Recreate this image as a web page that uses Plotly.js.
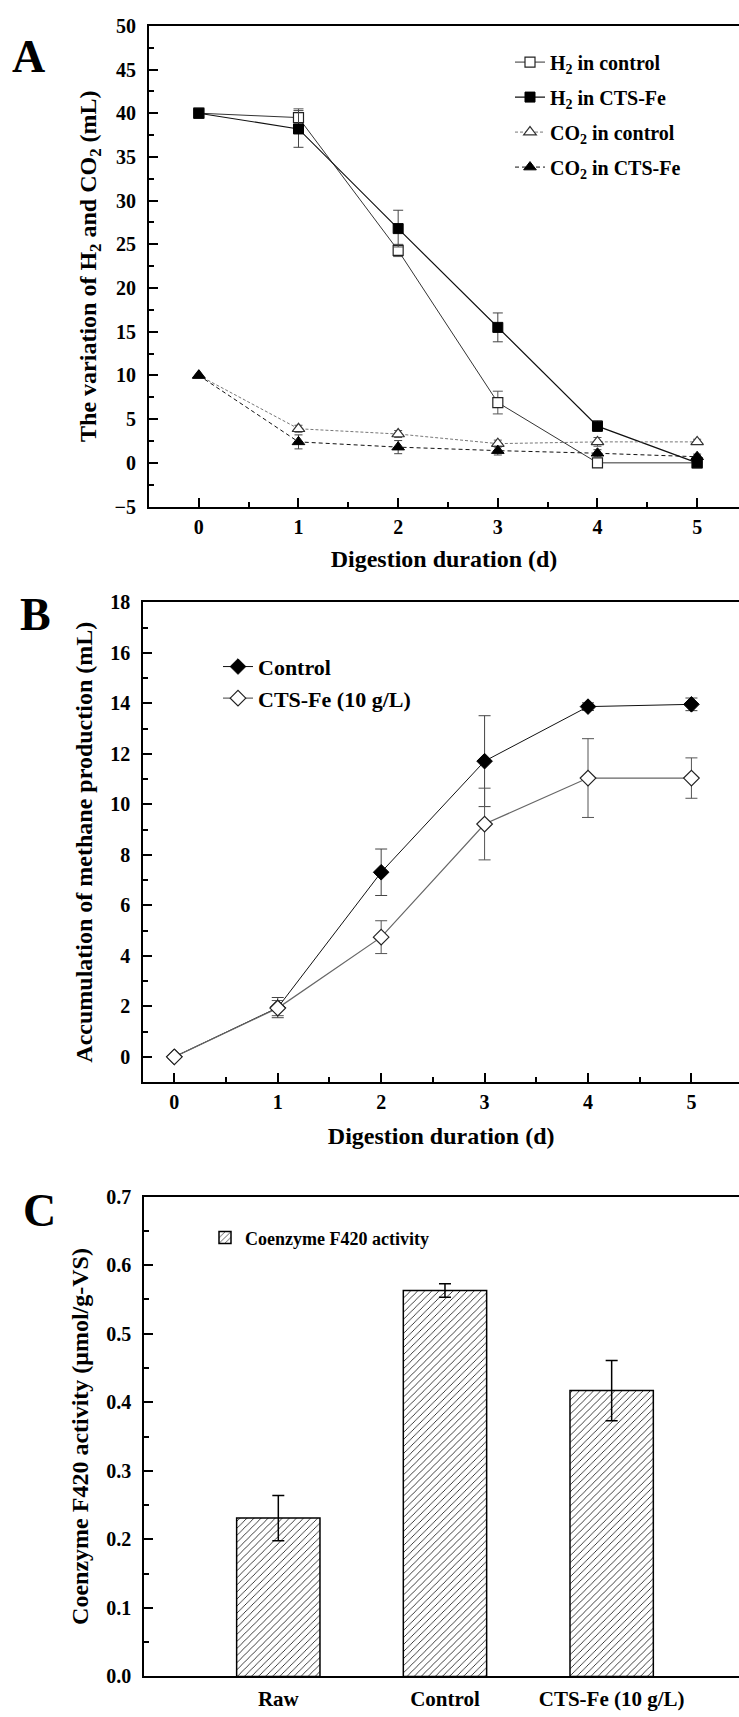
<!DOCTYPE html>
<html><head><meta charset="utf-8">
<script src="https://cdn.plot.ly/plotly-3.0.1.min.js"></script>
<style>html,body{margin:0;padding:0;background:#fff}</style>
</head><body><div id="chart" style="width:739px;height:1717px"></div>
<script>
// ---- Panel A: H2 and CO2 variation ----
const days = [0, 1, 2, 3, 4, 5];
const h2Control = [40, 39.5, 24.3, 6.9, 0, 0];
const h2ControlErr = [0, 1.0, 0.7, 1.3, 0.5, 0];
const h2CtsFe = [40, 38.2, 26.8, 15.5, 4.2, 0];
const h2CtsFeErr = [0, 2.1, 2.1, 1.65, 0.6, 0.3];
const co2Control = [10, 3.9, 3.3, 2.2, 2.4, 2.4];
const co2ControlErr = [0, 0.4, 0.4, 0.4, 0.5, 0.3];
const co2CtsFe = [10, 2.4, 1.8, 1.4, 1.1, 0.7];
const co2CtsFeErr = [0, 0.8, 0.75, 0.5, 0.4, 0.3];

// ---- Panel B: methane accumulation ----
const ch4Control = [0, 1.95, 7.31, 11.71, 13.87, 13.96];
const ch4ControlErr = [0, 0.4, 0.92, 1.8, 0.15, 0.25];
const ch4CtsFe = [0, 1.93, 4.74, 9.22, 11.04, 11.04];
const ch4CtsFeErr = [0, 0.3, 0.65, 1.42, 1.56, 0.8];

// ---- Panel C: coenzyme F420 ----
const groups = ['Raw', 'Control', 'CTS-Fe (10 g/L)'];
const f420 = [0.231, 0.563, 0.417];
const f420Err = [0.033, 0.01, 0.044];

const W = 739, H = 1717;
const px = v => v / W;
const py = v => 1 - v / H;
const FONT = 'Liberation Serif, "Times New Roman", serif';
const bold = (size) => ({family: FONT, size: size, color: '#000', weight: 'bold'});

function axisBase(extra) {
  return Object.assign({
    showline: true, linecolor: '#000', linewidth: 2,
    ticks: 'inside', ticklen: 9, tickwidth: 2, tickcolor: '#000',
    showgrid: false, zeroline: false,
    tickfont: bold(20), ticklabelstandoff: 7, automargin: true
  }, extra);
}

const traces = [
  {x: days, y: h2Control, name: 'H<sub>2</sub> in control', type: 'scatter', mode: 'lines+markers',
   xaxis: 'x', yaxis: 'y', legend: 'legend', legendgroup: 'a1',
   line: {color: '#333', width: 1},
   marker: {symbol: 'square', size: 10, color: '#fff', line: {color: '#222', width: 1.2}},
   error_y: {type: 'data', array: h2ControlErr, visible: true, color: '#555', thickness: 1, width: 5}},
  {x: days, y: h2CtsFe, name: 'H<sub>2</sub> in CTS-Fe', type: 'scatter', mode: 'lines+markers',
   xaxis: 'x', yaxis: 'y', legend: 'legend', legendgroup: 'a2',
   line: {color: '#111', width: 1.2},
   marker: {symbol: 'square', size: 10, color: '#000', line: {color: '#000', width: 1}},
   error_y: {type: 'data', array: h2CtsFeErr, visible: true, color: '#444', thickness: 1, width: 5}},
  {x: days, y: co2Control, name: 'CO<sub>2</sub> in control', type: 'scatter', mode: 'lines+markers',
   xaxis: 'x', yaxis: 'y', legend: 'legend', legendgroup: 'a3',
   line: {color: '#777', width: 1, dash: '3px,2px'},
   marker: {symbol: 'triangle-up', size: 11, color: '#fff', line: {color: '#333', width: 1.2}},
   error_y: {type: 'data', array: co2ControlErr, visible: true, color: '#555', thickness: 1, width: 4}},
  {x: days, y: co2CtsFe, name: 'CO<sub>2</sub> in CTS-Fe', type: 'scatter', mode: 'lines+markers',
   xaxis: 'x', yaxis: 'y', legend: 'legend', legendgroup: 'a4',
   line: {color: '#111', width: 1, dash: '4px,3px'},
   marker: {symbol: 'triangle-up', size: 11, color: '#000', line: {color: '#000', width: 1}},
   error_y: {type: 'data', array: co2CtsFeErr, visible: true, color: '#444', thickness: 1, width: 4}},

  {x: days, y: ch4Control, name: 'Control', type: 'scatter', mode: 'lines+markers',
   xaxis: 'x2', yaxis: 'y2', legend: 'legend2', legendgroup: 'b1',
   line: {color: '#111', width: 1},
   marker: {symbol: 'diamond', size: 12, color: '#000', line: {color: '#000', width: 1}},
   error_y: {type: 'data', array: ch4ControlErr, visible: true, color: '#444', thickness: 1, width: 6}},
  {x: days, y: ch4CtsFe, name: 'CTS-Fe (10 g/L)', type: 'scatter', mode: 'lines+markers',
   xaxis: 'x2', yaxis: 'y2', legend: 'legend2', legendgroup: 'b2',
   line: {color: '#666', width: 1.2},
   marker: {symbol: 'diamond', size: 12, color: '#fff', line: {color: '#222', width: 1.2}},
   error_y: {type: 'data', array: ch4CtsFeErr, visible: true, color: '#555', thickness: 1, width: 6}},

  {x: groups, y: f420, name: 'Coenzyme F420 activity', type: 'bar', width: 0.5,
   xaxis: 'x3', yaxis: 'y3', legend: 'legend3', showlegend: true,
   marker: {color: '#fff', line: {color: '#000', width: 1.5},
            pattern: {shape: '/', fgcolor: '#000', bgcolor: '#fff', size: 5, solidity: 0.15}},
   error_y: {type: 'data', array: f420Err, visible: true, color: '#000', thickness: 1.5, width: 6}}
];

const layout = {
  width: W, height: H,
  margin: {l: 0, r: 0, t: 0, b: 0},
  paper_bgcolor: '#fff', plot_bgcolor: '#fff',
  font: bold(18),
  showlegend: true,
  xaxis: axisBase({domain: [px(149), 1], anchor: 'y', range: [-0.5, 5.42], tick0: 0, dtick: 1, mirror: true,
    ticklabelstandoff: 1,
    minor: {ticks: 'inside', ticklen: 5, tickwidth: 2, tickcolor: '#000', tick0: 0, dtick: 0.5},
    title: {text: 'Digestion duration (d)', font: bold(24), standoff: 14}}),
  yaxis: axisBase({domain: [py(502), py(15)], anchor: 'x', range: [-5, 50], tick0: 0, dtick: 5,
    minor: {ticks: 'inside', ticklen: 5, tickwidth: 2, tickcolor: '#000', tick0: 0, dtick: 2.5},
    title: {text: 'The variation of H<sub>2</sub> and CO<sub>2</sub> (mL)', font: bold(24), standoff: 11}}),

  xaxis2: axisBase({domain: [px(143.3), 1], anchor: 'y2', range: [-0.3, 5.46], tick0: 0, dtick: 1, mirror: true,
    ticklabelstandoff: 1,
    minor: {ticks: 'inside', ticklen: 5, tickwidth: 2, tickcolor: '#000', tick0: 0, dtick: 0.5},
    title: {text: 'Digestion duration (d)', font: bold(24), standoff: 15}}),
  yaxis2: axisBase({domain: [py(1085), py(599)], anchor: 'x2', range: [-1, 18], tick0: 0, dtick: 2,
    minor: {ticks: 'inside', ticklen: 5, tickwidth: 2, tickcolor: '#000', tick0: 0, dtick: 1},
    title: {text: 'Accumulation of methane production (mL)', font: bold(24), standoff: 11}}),

  xaxis3: axisBase({domain: [px(144.3), 1], anchor: 'y3', type: 'category', range: [-0.804, 2.764],
    ticks: '', mirror: true, tickfont: bold(21), ticklabelstandoff: 2}),
  yaxis3: axisBase({domain: [py(1687), py(1201)], anchor: 'x3', range: [0, 0.7], tick0: 0, dtick: 0.1,
    tickformat: '.1f',
    minor: {ticks: 'inside', ticklen: 5, tickwidth: 2, tickcolor: '#000', tick0: 0, dtick: 0.05},
    title: {text: 'Coenzyme F420 activity (μmol/g-VS)', font: bold(24), standoff: 11}}),

  legend: {x: px(510), y: py(32), xanchor: 'left', yanchor: 'top', font: bold(20),
    bgcolor: 'rgba(0,0,0,0)', tracegroupgap: 6},
  legend2: {x: px(218), y: py(643), xanchor: 'left', yanchor: 'top', font: bold(22),
    bgcolor: 'rgba(0,0,0,0)', tracegroupgap: 0},
  legend3: {x: px(205), y: py(1224), xanchor: 'left', yanchor: 'top', font: bold(18),
    bgcolor: 'rgba(0,0,0,0)'},

  annotations: [
    {text: 'A', xref: 'paper', yref: 'paper', x: px(28.5), y: py(46), xanchor: 'center', yanchor: 'middle',
     showarrow: false, font: bold(46)},
    {text: 'B', xref: 'paper', yref: 'paper', x: px(35), y: py(611), xanchor: 'center', yanchor: 'middle',
     showarrow: false, font: bold(46)},
    {text: 'C', xref: 'paper', yref: 'paper', x: px(39), y: py(1215), xanchor: 'center', yanchor: 'middle',
     showarrow: false, font: bold(46)}
  ]
};

Plotly.newPlot('chart', traces, layout, {displayModeBar: false, staticPlot: true});
</script>
</body></html>
